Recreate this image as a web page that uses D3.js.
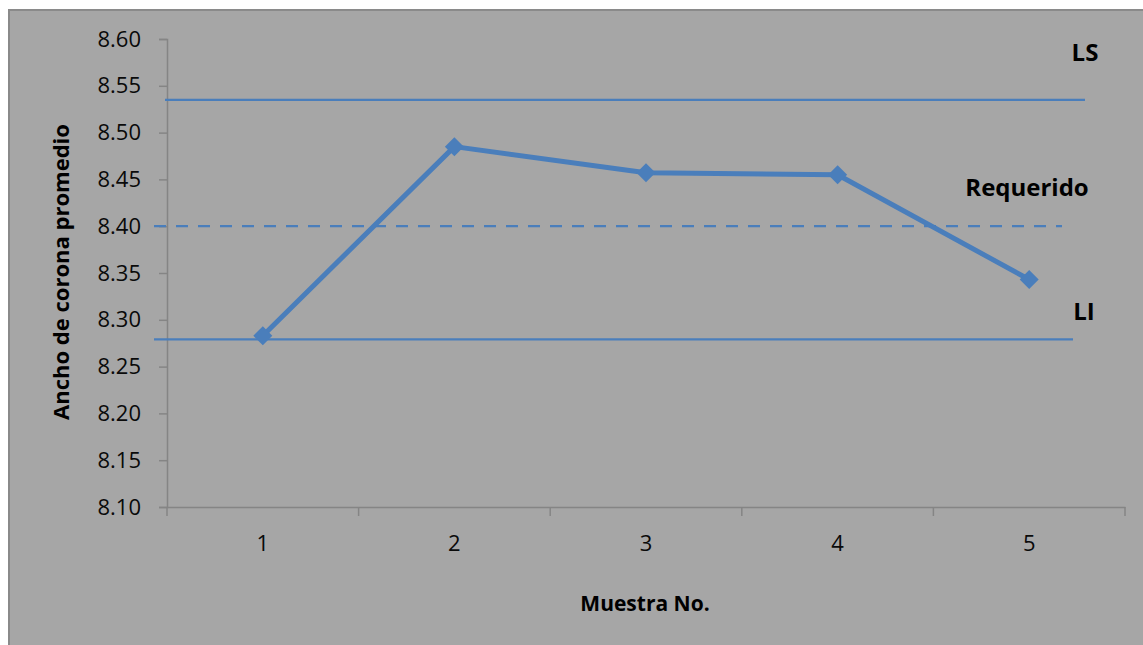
<!DOCTYPE html>
<html><head><meta charset="utf-8">
<script src="https://cdn.jsdelivr.net/npm/d3@7"></script>
<style>
html,body{margin:0;padding:0;background:#fff;}
svg{display:block;font-family:"Open Sans",sans-serif;}
</style></head>
<body>
<svg id="c" width="1143" height="645"></svg>
<script>
const categories = ["1","2","3","4","5"];
const values = [8.283, 8.485, 8.457, 8.455, 8.343];
const yTicks = [8.10,8.15,8.20,8.25,8.30,8.35,8.40,8.45,8.50,8.55,8.60];
const refNames = ["LS","Requerido","LI"];
const refValues = [8.535, 8.40, 8.279];
const xTitle = "Muestra No.";
const yTitle = "Ancho de corona promedio";

const svg = d3.select("#c");
const blue = "#4a7ebb";
const axisCol = "#858585";

svg.append("rect").attr("x",0).attr("y",0).attr("width",1143).attr("height",645).attr("fill","#fff");
svg.append("rect").attr("x",9).attr("y",10).attr("width",1150).attr("height",650)
  .attr("fill","#a6a6a6").attr("stroke","#8a8a8a").attr("stroke-width",2);

const x = d3.scaleBand().domain(categories).range([167,1125]);
const y = d3.scaleLinear().domain([8.10,8.60]).range([507,39]);

// y axis
const ya = svg.append("g").attr("transform","translate(167,0)")
  .call(d3.axisLeft(y).tickValues(yTicks).tickFormat(d3.format(".2f")).tickSizeOuter(0).tickSize(8).tickPadding(18));
ya.select(".domain").attr("stroke",axisCol).attr("stroke-width",1.5);
ya.selectAll(".tick line").attr("stroke",axisCol).attr("stroke-width",1.5);
ya.selectAll("text").attr("font-size",22).attr("fill","#0a0a0a").attr("font-family","Open Sans");

// x axis
const xa = svg.append("g").attr("transform","translate(0,507)")
  .call(d3.axisBottom(x).tickSize(0).tickPadding(28));
xa.select(".domain").attr("stroke",axisCol).attr("stroke-width",1.5);
xa.selectAll("text").attr("font-size",22).attr("fill","#0a0a0a").attr("font-family","Open Sans");
// category boundary ticks
const bounds = categories.map(c=>x(c)).concat([x(categories[categories.length-1])+x.bandwidth()]);
svg.append("g").selectAll("line").data(bounds).join("line")
  .attr("x1",d=>d).attr("x2",d=>d).attr("y1",507).attr("y2",516)
  .attr("stroke",axisCol).attr("stroke-width",1.5);

// reference lines
const refStyle = [
  {x1:165, x2:1085, dash:null, lx:1085, ly:-39},
  {x1:154, x2:1062, dash:"12,10", lx:1027, ly:-30},
  {x1:154, x2:1073, dash:null, lx:1084, ly:-19}
];
refValues.forEach((v,i)=>{
  const s = refStyle[i];
  const l = svg.append("line").attr("x1",s.x1).attr("x2",s.x2).attr("y1",y(v)).attr("y2",y(v))
    .attr("stroke",blue).attr("stroke-width",2.2);
  if(s.dash) l.attr("stroke-dasharray",s.dash);
  svg.append("text").attr("x",s.lx).attr("y",y(v)+s.ly).attr("text-anchor","middle")
    .attr("font-size",24).attr("font-weight","bold").attr("fill","#000").text(refNames[i]);
});

// series
const cx = d=>x(d)+x.bandwidth()/2;
svg.append("path").datum(values)
  .attr("d", d3.line().x((d,i)=>cx(categories[i])).y(d=>y(d)))
  .attr("fill","none").attr("stroke",blue).attr("stroke-width",5).attr("stroke-linejoin","round");
svg.append("g").selectAll("path").data(values).join("path")
  .attr("d", d3.symbol().type(d3.symbolDiamond2).size(230))
  .attr("transform",(d,i)=>`translate(${cx(categories[i])},${y(d)})`)
  .attr("fill",blue);

// titles
svg.append("text").attr("x",645).attr("y",611).attr("text-anchor","middle")
  .attr("font-size",21).attr("font-weight","bold").attr("fill","#000").text(xTitle);
svg.append("text").attr("transform","translate(69,272) rotate(-90)").attr("text-anchor","middle")
  .attr("font-size",22).attr("font-weight","bold").attr("fill","#000").text(yTitle);
</script>
</body></html>
